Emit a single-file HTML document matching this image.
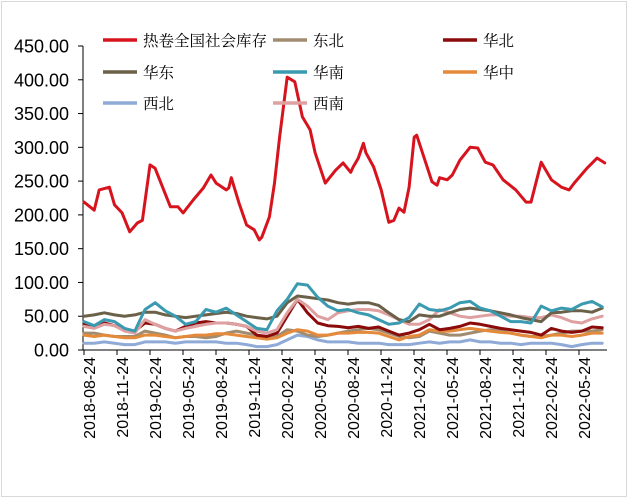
<!DOCTYPE html>
<html><head><meta charset="utf-8"><style>
html,body{margin:0;padding:0;background:#fff;}
svg{display:block;font-family:"Liberation Sans","Noto Sans CJK SC",sans-serif;}
</style></head><body>
<svg id="chart" width="637" height="499" viewBox="0 0 637 499" xmlns="http://www.w3.org/2000/svg">
<rect x="1.5" y="1.5" width="625" height="495" fill="#fff" stroke="#d9d9d9" stroke-width="1"/>
<g id="axes"></g>
<g id="series"></g>
<g id="legend"></g>
</svg>
<script>
const yTicks=[0,50,100,150,200,250,300,350,400,450];
const xTickLabels=["2018-08-24","2018-11-24","2019-02-24","2019-05-24","2019-08-24","2019-11-24","2020-02-24","2020-05-24","2020-08-24","2020-11-24","2021-02-24","2021-05-24","2021-08-24","2021-11-24","2022-02-24","2022-05-24"];
const redWeeks=[0,4,6,10,12,15,18,21,23,26,28,34,37,39,43,47,50,52,56,57,58,61,64,67,69,70,73,75,77,80,83,86,89,91,95,99,102,105,106,108,110,111,114,117,120,122,124,126,128,130,131,137,139,140,143,145,148,152,155,158,161,165,170,174,176,180,184,188,191,193,198,202,205];
const redValues=[219,207,237,241,215,203,175,188,192,274,269,212,212,203,222,240,259,247,237,240,255,218,185,178,163,167,197,247,315,404,397,345,326,292,247,266,277,263,271,284,306,292,271,237,189,192,210,204,241,315,318,249,244,255,252,259,281,300,299,278,274,252,237,219,219,278,252,241,237,247,269,284,277];
const weeks=[0,4,8,12,16,20,24,28,32,36,40,44,48,52,56,60,64,68,72,76,80,84,88,92,96,100,104,108,112,116,120,124,128,132,136,140,144,148,152,156,160,164,168,172,176,180,184,188,192,196,200,204];
const northeast=[25,25,22,20,20,20,28,25,22,18,20,20,18,20,25,28,25,22,18,20,30,28,22,20,22,25,28,30,32,30,25,20,18,20,28,25,22,22,25,28,30,28,25,22,20,20,22,25,28,28,28,30];
const north=[38,35,40,36,30,28,40,38,32,28,35,40,42,40,40,38,35,22,20,25,50,75,55,40,36,35,33,35,32,34,28,22,25,30,38,30,32,35,40,38,35,32,30,28,26,22,32,28,26,28,34,33];
const east=[50,52,55,52,50,52,56,56,52,50,48,50,52,54,56,54,50,48,46,50,70,80,78,76,74,70,68,70,70,66,55,45,42,52,50,50,55,60,62,60,58,55,52,48,45,42,55,56,58,58,56,62];
const south=[42,36,45,42,32,28,60,70,58,50,38,42,60,56,62,52,42,32,30,58,75,98,96,78,65,58,60,55,52,45,38,40,48,68,60,58,62,70,72,62,58,50,42,42,40,65,58,62,60,68,72,64];
const central=[22,20,22,20,18,18,22,22,20,18,20,22,22,24,24,22,20,18,16,18,25,30,28,22,22,25,25,26,26,25,20,15,20,22,30,28,28,30,32,30,28,26,25,22,20,18,22,22,20,22,25,25];
const northwest=[10,10,12,10,8,8,12,12,12,10,12,12,12,12,10,10,8,5,5,8,15,22,20,15,12,12,12,10,10,10,8,8,8,10,12,10,12,12,15,12,12,10,10,8,10,10,10,8,5,8,10,10];
const southwest=[35,32,38,36,28,25,45,38,32,28,32,35,38,40,40,38,35,28,25,30,55,75,65,50,45,55,58,60,60,58,52,45,38,38,45,60,55,50,48,50,52,52,50,50,48,48,52,48,42,40,46,50];

const NS="http://www.w3.org/2000/svg";
const X0=84,PXW=2.54,Y0=350,YTOP=46,VMAX=450;
function xs(w){return X0+w*PXW;}
function ys(v){return Y0-v/VMAX*(Y0-YTOP);}
function mk(tag,attrs,parent){const e=document.createElementNS(NS,tag);for(const k in attrs)e.setAttribute(k,attrs[k]);parent.appendChild(e);return e;}
const axes=document.getElementById('axes');
let yl=mk('line',{x1:83,y1:YTOP,x2:83,y2:Y0,stroke:'#000','stroke-width':1},axes);


let xl=mk('line',{x1:83,y1:Y0,x2:607,y2:Y0,stroke:'#000','stroke-width':1},axes);


yTicks.forEach(v=>{
  const y=ys(v);
  let t=mk('line',{x1:78,y1:y,x2:83,y2:y,stroke:'#000'},axes);
  
  
  let tx=mk('text',{x:69,y:y+6.5,'text-anchor':'end','font-size':18,fill:'#000'},axes);
  
  
  tx.textContent=v.toFixed(2);
});
xTickLabels.forEach((lab,i)=>{
  const x=X0+i*33;
  let t=mk('line',{x1:x,y1:Y0,x2:x,y2:Y0+5,stroke:'#000'},axes);
  
  
  let tx=mk('text',{x:0,y:0,'text-anchor':'end','font-size':16,fill:'#000',transform:`translate(${x+11},${Y0+7}) rotate(-90)`},axes);
  
  
  tx.textContent=lab;
});
const seriesG=document.getElementById('series');
function draw(ws,vals,color,name,w){
  const d=ws.map((wk,i)=>(i?'L':'M')+xs(wk).toFixed(1)+' '+ys(vals[i]).toFixed(1)).join(' ');
  let p=mk('path',{d:d,fill:'none',stroke:color,'stroke-width':w,'stroke-linejoin':'round','stroke-linecap':'round'},seriesG);
  
  
}
draw(weeks,northwest,'#8faad6','series-northwest',3);
draw(weeks,northeast,'#a08c70','series-northeast',3);
draw(weeks,central,'#e48a3a','series-central',3);
draw(weeks,north,'#8b0a0a','series-north',3);
draw(weeks,southwest,'#dea0a0','series-southwest',3);
draw(weeks,east,'#6b6048','series-east',3);
draw(weeks,south,'#3a9ab0','series-south',3);
draw(redWeeks,redValues,'#d7141e','series-national-total',3);
const leg=document.getElementById('legend');
const items=[["热卷全国社会库存","#d7141e",103,40],["东北","#a08c70",273,40],["华北","#8b0a0a",443,40],["华东","#6b6048",103,72],["华南","#3a9ab0",273,72],["华中","#e48a3a",443,72],["西北","#8faad6",103,103],["西南","#dea0a0",273,103]];
items.forEach(it=>{
  let g=mk('g',{},leg);
  
  
  mk('line',{x1:it[2],y1:it[3],x2:it[2]+34,y2:it[3],stroke:it[1],'stroke-width':3.5},g);
  let t=mk('text',{x:it[2]+40,y:it[3]+6,'font-size':15.5,fill:'#000','font-family':'"Liberation Serif","Noto Serif CJK SC",serif'},g);
  t.textContent=it[0];
});
</script>
</body></html>
